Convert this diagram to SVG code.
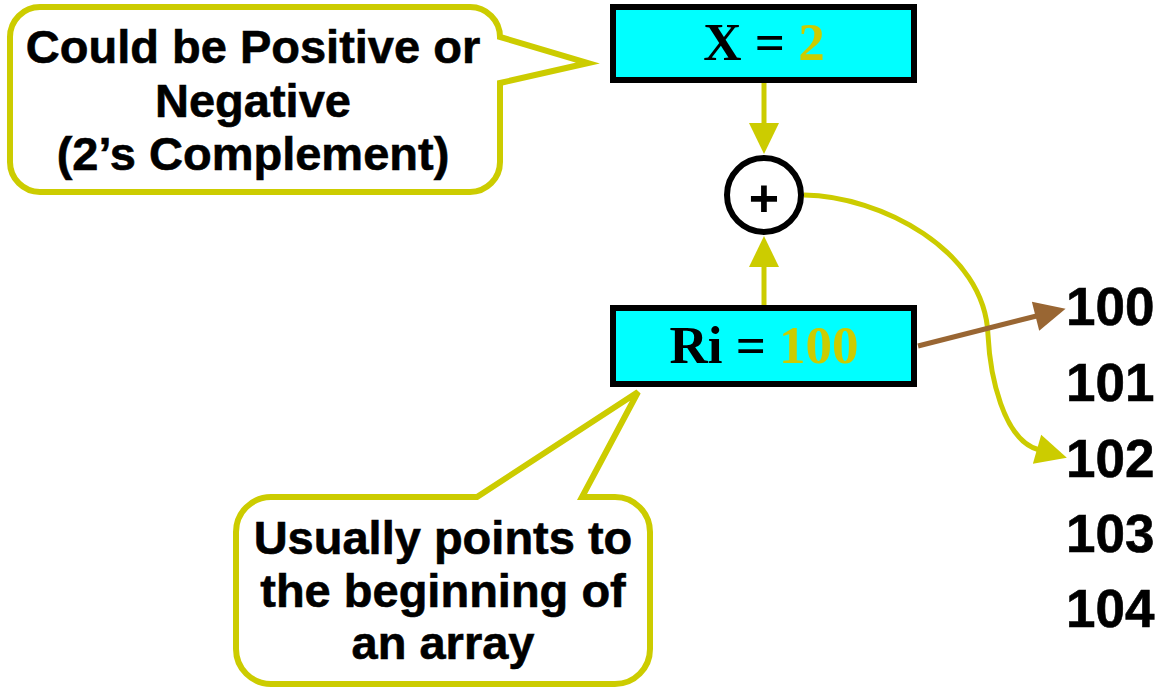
<svg xmlns="http://www.w3.org/2000/svg" width="1158" height="688" viewBox="0 0 1158 688">
<style>
.call{fill:#fff;stroke:#CCCC00;stroke-width:6;stroke-linejoin:miter}
.ct{font-family:"Liberation Sans",Arial,sans-serif;font-weight:bold;font-size:47px;fill:#000;stroke:#000;stroke-width:0.6;text-anchor:middle}
.box{fill:#00FFFF;stroke:#000;stroke-width:6}
.bt{font-family:"Liberation Serif","Times New Roman",serif;font-weight:bold;font-size:53px;fill:#000;text-anchor:middle}
.y{fill:#CCCC00}
.num{font-family:"Liberation Sans",Arial,sans-serif;font-weight:bold;font-size:53px;fill:#000;stroke:#000;stroke-width:0.6}
.wy{fill:none;stroke:#CCCC00;stroke-width:5}
.wb{fill:none;stroke:#996633;stroke-width:5}
</style>
<defs>
<marker id="ay" markerUnits="userSpaceOnUse" markerWidth="32" markerHeight="30" refX="1" refY="15" orient="auto" overflow="visible"><path d="M0,0 L31,15 L0,30 z" fill="#CCCC00"/></marker>
<marker id="ab" markerUnits="userSpaceOnUse" markerWidth="32" markerHeight="30" refX="1" refY="15" orient="auto" overflow="visible"><path d="M0,0 L31,15 L0,30 z" fill="#996633"/></marker>
</defs>
<g id="callout-sign">
<path class="call" d="M40,7 H470 A30,30 0 0 1 500,37 L588,63 L500,83 V162 A30,30 0 0 1 470,192 H40 A30,30 0 0 1 10,162 V37 A30,30 0 0 1 40,7 Z"/>
<text class="ct" x="253" y="63">Could be Positive or</text>
<text class="ct" x="253" y="117">Negative</text>
<text class="ct" x="253" y="170">(2’s Complement)</text>
</g>
<g id="callout-array">
<path class="call" d="M271,497 H477 L638,392 L582,497 H615 A35,35 0 0 1 650,532 V649 A35,35 0 0 1 615,684 H271 A35,35 0 0 1 236,649 V532 A35,35 0 0 1 271,497 Z"/>
<text class="ct" x="443" y="554">Usually points to</text>
<text class="ct" x="443" y="607">the beginning of</text>
<text class="ct" x="443" y="659">an array</text>
</g>
<g id="connectors">
<line class="wy" x1="764" y1="83" x2="764" y2="124" marker-end="url(#ay)"/>
<line class="wy" x1="764" y1="305" x2="764" y2="266" marker-end="url(#ay)"/>
<path class="wy" d="M804,195 C880,196 985,250 988,335 C990,375 1003,439.4 1038,449.5" marker-end="url(#ay)"/>
<line class="wb" x1="918" y1="346" x2="1036.5" y2="316" marker-end="url(#ab)"/>
</g>
<g id="node-x">
<rect class="box" x="613" y="7" width="301" height="73"/>
<text class="bt" x="764" y="60">X = <tspan class="y">2</tspan></text>
</g>
<g id="node-adder">
<circle cx="764" cy="195" r="37" fill="#fff" stroke="#000" stroke-width="6"/>
<text x="764" y="216" style="font-family:'Liberation Sans',Arial,sans-serif;font-weight:bold;font-size:52px;text-anchor:middle">+</text>
</g>
<g id="node-ri">
<rect class="box" x="613" y="308" width="301" height="76"/>
<text class="bt" x="764" y="363">Ri = <tspan class="y">100</tspan></text>
</g>
<g id="memory">
<text class="num" x="1066" y="325">100</text>
<text class="num" x="1066" y="401">101</text>
<text class="num" x="1066" y="477">102</text>
<text class="num" x="1066" y="552">103</text>
<text class="num" x="1066" y="627">104</text>
</g>
</svg>
